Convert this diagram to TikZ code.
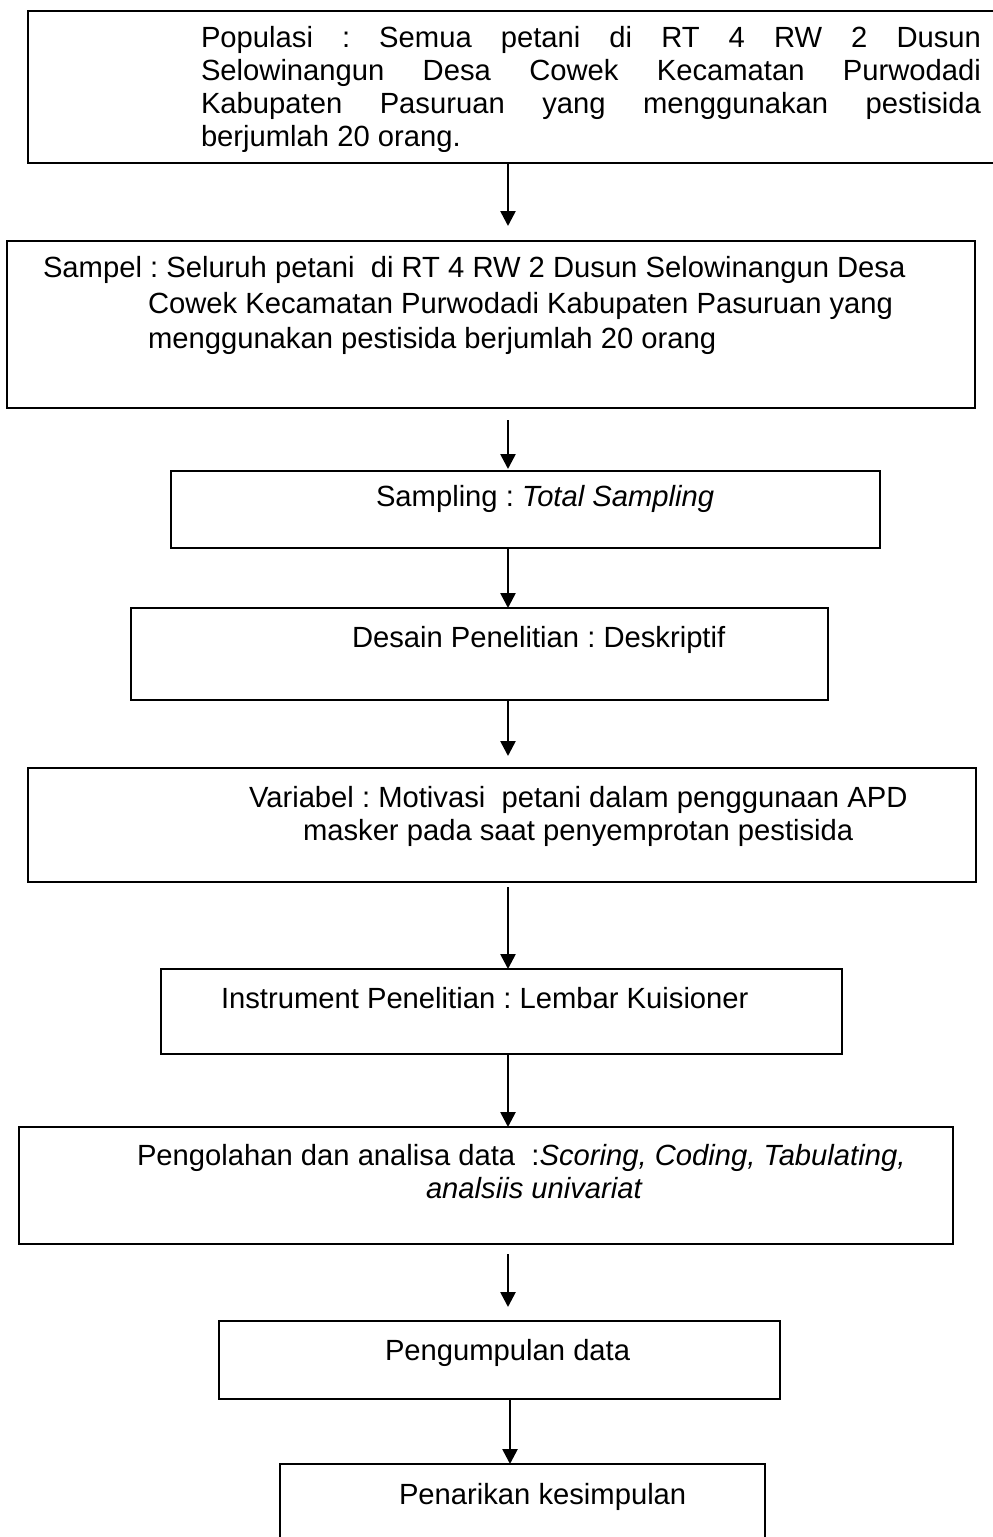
\documentclass[tikz,border=0pt]{standalone}
\usepackage{fontspec}
\setmainfont{Liberation Sans}
\usetikzlibrary{arrows.meta}
\frenchspacing

\begin{document}
\begin{tikzpicture}[x=1pt, y=-1pt, line width=2pt,
		font=\fontsize{29.2pt}{33pt}\selectfont\frenchspacing,
		kotak/.style={draw, rectangle, inner sep=0pt, outer sep=0pt},
		teks/.style={anchor=base west, inner sep=0pt},
		panah/.style={-{Triangle[length=15pt, width=15pt]}, line width=2.6pt}]
		\useasboundingbox (0,0) rectangle (993,1537);
		\clip (0,0) rectangle (993,1537);
		% ---- kotak ----
		\node[kotak, minimum width=982pt, minimum height=152pt] (pop) at (519,87) {};
		\node[kotak, minimum width=968pt, minimum height=167pt] (sampel) at (491,324.5) {};
		\node[kotak, minimum width=709pt, minimum height=77pt] (sampling) at (525.5,509.5) {};
		\node[kotak, minimum width=697pt, minimum height=92pt] (desain) at (479.5,654) {};
		\node[kotak, minimum width=948pt, minimum height=114pt] (variabel) at (502,825) {};
		\node[kotak, minimum width=681pt, minimum height=85pt] (instrumen) at (501.5,1011.5) {};
		\node[kotak, minimum width=934pt, minimum height=117pt] (olah) at (486,1185.5) {};
		\node[kotak, minimum width=561pt, minimum height=78pt] (kumpul) at (499.5,1360) {};
		\node[kotak, minimum width=485pt, minimum height=96pt] (simpul) at (522.5,1512) {};
		% ---- teks populasi (rata kanan kiri) ----
		\node[teks] (pop-t1) at (200,47) {\makebox[780pt][s]{Populasi : Semua petani di RT 4 RW 2 Dusun}};
		\node[teks] (pop-t2) at (200,80) {\makebox[780pt][s]{Selowinangun Desa Cowek Kecamatan Purwodadi}};
		\node[teks] (pop-t3) at (200,113) {\makebox[780pt][s]{Kabupaten Pasuruan yang menggunakan pestisida}};
		\begin{scope}
			\clip (0,0) rectangle (993,151);
			\node[teks] (pop-t4) at (200,146) {berjumlah 20 orang.};
		\end{scope}
		% ---- teks kotak lain ----
		\node[teks] (sampel-t1) at (42,277) {Sampel : Seluruh petani\ \ di RT 4 RW 2 Dusun Selowinangun Desa};
		\node[teks] (sampel-t2) at (147,313) {Cowek Kecamatan Purwodadi Kabupaten Pasuruan yang};
		\node[teks] (sampel-t3) at (147,348) {menggunakan pestisida berjumlah 20 orang};
		\node[teks] (sampling-t) at (375,506) {Sampling : \textit{Total Sampling}};
		\node[teks] (desain-t) at (351,647) {Desain Penelitian : Deskriptif};
		\node[teks] (variabel-t1) at (248,807) {Variabel : Motivasi\ \ petani dalam penggunaan APD};
		\node[teks] (variabel-t2) at (302,840) {masker pada saat penyemprotan pestisida};
		\node[teks] (instrumen-t) at (220,1008) {Instrument Penelitian : Lembar Kuisioner};
		\node[teks] (olah-t1) at (136,1165) {Pengolahan dan analisa data\ \ :\textit{Scoring, Coding, Tabulating,}};
		\node[teks] (olah-t2) at (425,1198) {\textit{analsiis univariat}};
		\node[teks] (kumpul-t) at (384,1360) {Pengumpulan data};
		\node[teks] (simpul-t) at (398,1504) {Penarikan kesimpulan};
		% ---- panah ----
		\coordinate (ax) at (508,0);
		\coordinate (ax2) at (510,0);
		\draw[panah, shorten >=15pt] (pop.south -| ax) -- (sampel.north -| ax);
		\draw[panah, shorten <=12pt, shorten >=2pt] (sampel.south -| ax) -- (sampling.north -| ax);
		\draw[panah] (sampling.south -| ax) -- (desain.north -| ax);
		\draw[panah, shorten >=12pt] (desain.south -| ax) -- (variabel.north -| ax);
		\draw[panah, shorten <=5pt] (variabel.south -| ax) -- (instrumen.north -| ax);
		\draw[panah] (instrumen.south -| ax) -- (olah.north -| ax);
		\draw[panah, shorten <=10pt, shorten >=14pt] (olah.south -| ax) -- (kumpul.north -| ax);
		\draw[panah] (kumpul.south -| ax2) -- (simpul.north -| ax2);
\end{tikzpicture}
\end{document}
